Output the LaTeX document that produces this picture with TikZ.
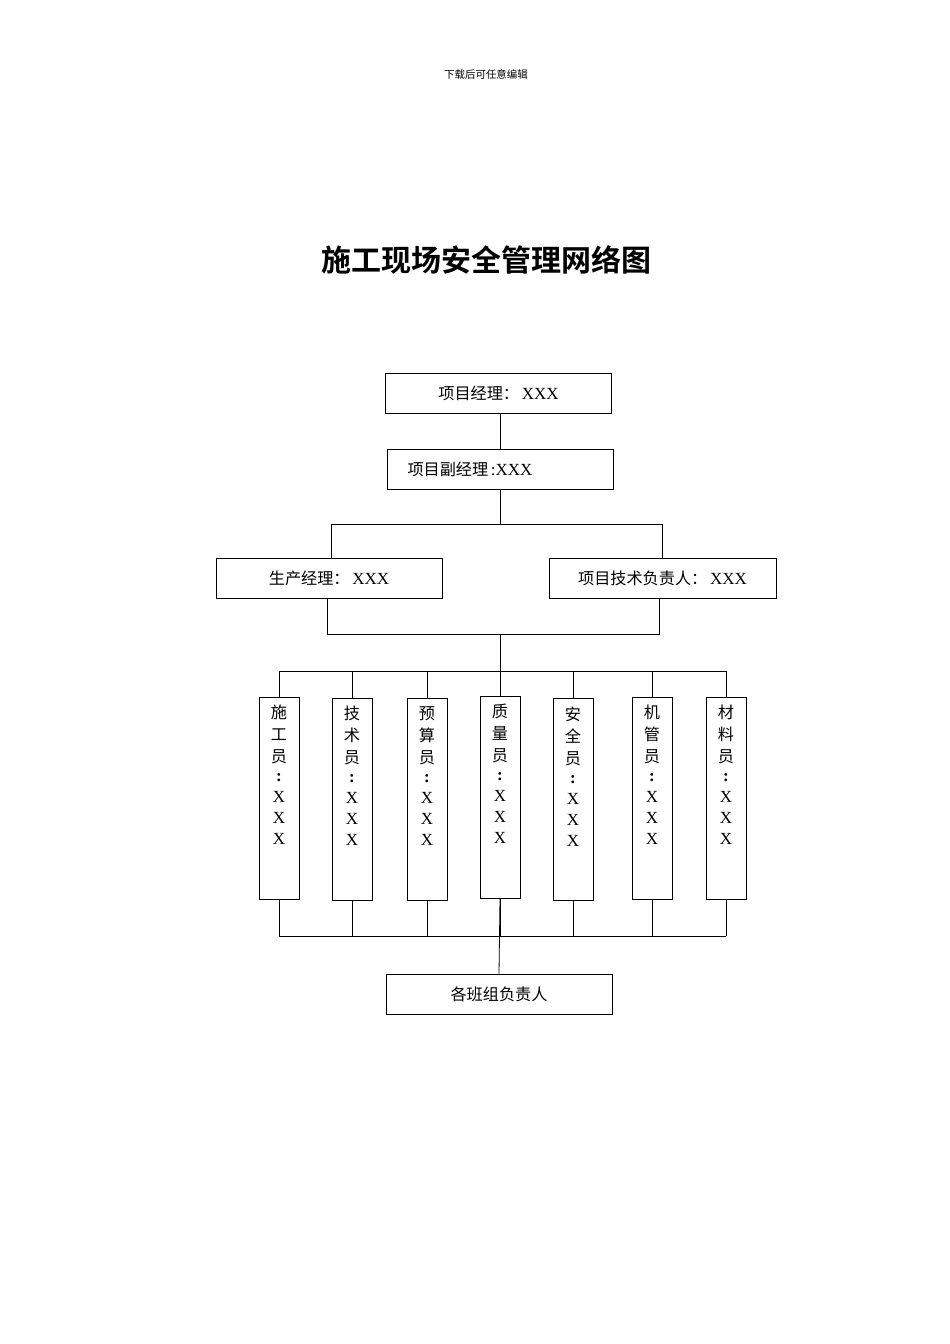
\documentclass[tikz,border=0pt]{standalone}
\usepackage{fontspec}
\setmainfont{Liberation Serif}
\newfontfamily\cjk{Noto Sans CJK SC}[Scale=0.95]
\newfontfamily\cjkb{Noto Sans CJK SC Bold}
\begin{document}
\begin{tikzpicture}[x=1pt,y=-1pt,line width=0.8pt,
  bx/.style={draw,minimum width=226pt,minimum height=40pt,font=\fontsize{17}{20}\selectfont},
  vb/.style={draw,minimum width=40pt,minimum height=202pt,anchor=north,inner sep=0pt},
  vl/.style={anchor=north,align=center,inner sep=0pt,font=\fontsize{17}{22}\selectfont}]
\useasboundingbox (0,0) rectangle (950,1344);
\node (hd) at (486,74) {\cjk\fontsize{11}{13}\selectfont 下载后可任意编辑};
\node (ti) at (486,260) {\cjkb\fontsize{30}{34}\selectfont 施工现场安全管理网络图};
\node[bx] (pm) at (498.5,393.5) {\cjk 项目经理：\,\rmfamily XXX};
\node[bx] (dpm) at (500,469) {\hspace*{-60pt}\cjk 项目副经理\,\rmfamily :XXX};
\node[bx] (sc) at (329,578.5) {\cjk 生产经理：\,\rmfamily XXX};
\node[bx,minimum width=227pt] (js) at (662.5,578.5) {\cjk 项目技术负责人：\,\rmfamily XXX};
\node[bx] (bz) at (499,994) {\cjk 各班组负责人};
\def\vt#1#2#3{{\cjk #1}\\[0pt]{\cjk #2}\\[0pt]{\cjk #3}\\[-3pt]\textbf{:}\\[-1pt]X\\[-1pt]X\\[-1pt]X}
\foreach \n/\x/\y/\a/\b/\c in {1/279/697/施/工/员, 2/352/698/技/术/员, 3/427/698/预/算/员, 4/500/696/质/量/员, 5/573/698/安/全/员, 6/652/697/机/管/员, 7/726/697/材/料/员}{
  \node[vb] (v\n) at (\x,\y) {};
  \node[vl] (l\n) at (\x,\y+8) {\vt\a\b\c};
}
\coordinate (a) at (500,524);
\coordinate (b) at (500,634);
\coordinate (c) at (500,671);
\coordinate (d) at (500,936);
\draw (pm.south -| a) -- (dpm.north -| a);
\draw (dpm.south -| a) -- (a);
\draw (sc.north -| 331,0) -- (331,524) -- (662,524) -- (js.north -| 662,0);
\draw (sc.south -| 327,0) -- (327,634) -- (659,634) -- (js.south -| 659,0);
\draw (b) -- (v4.north);
\draw (v1.north) -- (279,671) -- (726,671) -- (v7.north);
\foreach \v in {v2,v3,v5,v6} \draw (\v.north) -- (\v.north |- c);
\foreach \v in {v1,v2,v3,v4,v5,v6,v7} \draw (\v.south) -- (\v.south |- d);
\draw (279,936) -- (726,936);
\draw (v4.south) -- (bz.north);
\end{tikzpicture}
\end{document}
